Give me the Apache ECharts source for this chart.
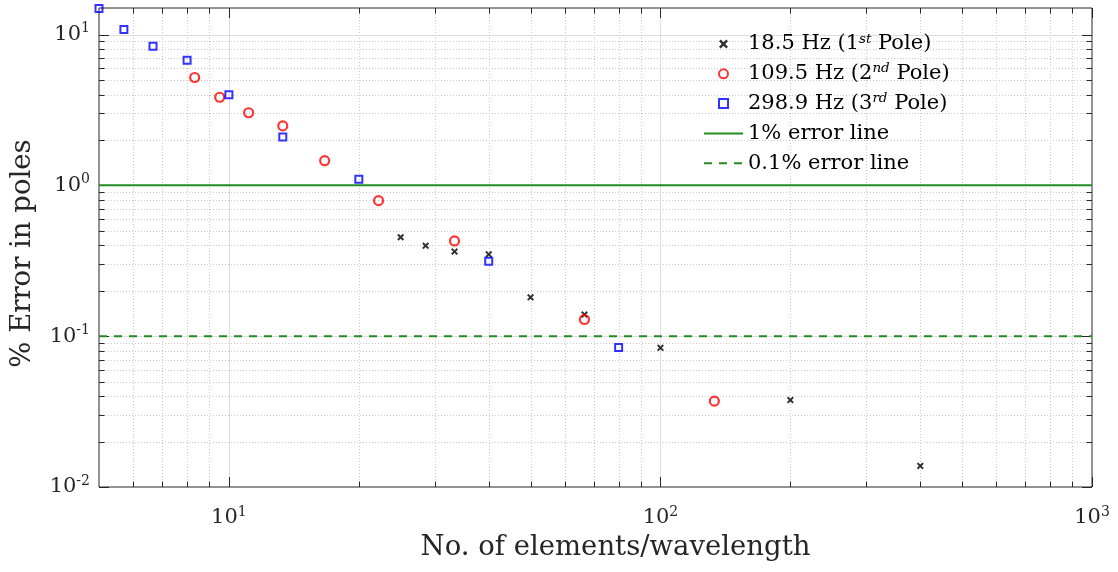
<!DOCTYPE html>
<html>
<head>
<meta charset="utf-8">
<script src="https://cdn.jsdelivr.net/npm/echarts@6/dist/echarts.min.js"></script>
<style>
html,body{margin:0;padding:0;background:#fff;}
#chart{width:1118px;height:572px;}
</style>
</head>
<body>
<div id="chart"></div>
<script>
// ---- data ----
const pole1X = [25, 28.57, 33.33, 40, 50, 66.67, 100, 200, 400];
const pole1Y = [0.453, 0.398, 0.364, 0.349, 0.181, 0.139, 0.0837, 0.0377, 0.0138];
const pole2X = [8.33, 9.52, 11.11, 13.33, 16.67, 22.22, 33.33, 66.67, 133.33];
const pole2Y = [5.19, 3.84, 3.03, 2.48, 1.457, 0.792, 0.428, 0.129, 0.0371];
const pole3X = [5, 5.71, 6.67, 8, 10, 13.33, 20, 40, 80];
const pole3Y = [14.9, 10.8, 8.36, 6.76, 3.99, 2.09, 1.10, 0.314, 0.0842];
const errorLineX = [5, 1000];
const onePercent = 1;
const pointOnePercent = 0.1;

const xRange = [5, 1000];
const yRange = [0.01, 15];
const xMajorTicks = [10, 100, 1000];
const xMinorTicks = [6, 7, 8, 9, 20, 30, 40, 50, 60, 70, 80, 90, 200, 300, 400, 500, 600, 700, 800, 900];
const yMajorTicks = [0.01, 0.1, 1, 10];
const yMinorTicks = [0.02, 0.03, 0.04, 0.05, 0.06, 0.07, 0.08, 0.09, 0.2, 0.3, 0.4, 0.5, 0.6, 0.7, 0.8, 0.9, 2, 3, 4, 5, 6, 7, 8, 9];

const seriesNames = ['pole1', 'pole2', 'pole3', 'line1', 'line01'];
const legendLabels = {
  pole1: '18.5 Hz (1{sup|st} Pole)',
  pole2: '109.5 Hz (2{sup|nd} Pole)',
  pole3: '298.9 Hz (3{sup|rd} Pole)',
  line1: '1% error line',
  line01: '0.1% error line'
};
const xTitle = 'No. of elements/wavelength';
const yTitle = '% Error in poles';

// ---- styling ----
const FONT = "'DejaVu Serif', 'Liberation Serif', serif";
const AXIS_COLOR = '#262626';
const GREEN = '#228B22';

function zip(xs, ys) { return xs.map((x, i) => [x, ys[i]]); }

function powLabel(v) {
  const e = Math.log10(v);
  const r = Math.round(e);
  if (Math.abs(e - r) > 1e-6) return '';
  return '{b|10}{sup|' + r + '}';
}

const labelRich = {
  b: { fontFamily: FONT, fontSize: 21, color: AXIS_COLOR, lineHeight: 26 },
  sup: { fontFamily: FONT, fontSize: 14, color: AXIS_COLOR, verticalAlign: 'top', lineHeight: 14 }
};

// draws the whole grid + box ticks through the axes' own scales
function gridRender(params, api) {
  const cs = params.coordSys;
  const children = [];
  const tickStyle = { stroke: AXIS_COLOR, lineWidth: 1 };
  const majorStyle = { stroke: '#dedede', lineWidth: 1 };
  const minorStyle = { stroke: '#cacaca', lineWidth: 1, lineDash: [1, 2] };
  const refX = 10, refY = 1;
  function addX(v, major) {
    const px = Math.round(api.coord([v, refY])[0]) + 0.5;
    const len = major ? 10 : 5.5;
    if (px > cs.x + 1 && px < cs.x + cs.width - 1) {
      children.push({ type: 'line', z2: 0, shape: { x1: px, y1: cs.y, x2: px, y2: cs.y + cs.height }, style: major ? majorStyle : minorStyle });
    }
    children.push({ type: 'line', z2: 5, shape: { x1: px, y1: cs.y + cs.height, x2: px, y2: cs.y + cs.height - len }, style: tickStyle });
    children.push({ type: 'line', z2: 5, shape: { x1: px, y1: cs.y, x2: px, y2: cs.y + len }, style: tickStyle });
  }
  function addY(v, major) {
    const py = Math.round(api.coord([refX, v])[1]) + 0.5;
    const len = major ? 10 : 5.5;
    if (py > cs.y + 1 && py < cs.y + cs.height - 1) {
      children.push({ type: 'line', z2: 0, shape: { x1: cs.x, y1: py, x2: cs.x + cs.width, y2: py }, style: major ? majorStyle : minorStyle });
    }
    children.push({ type: 'line', z2: 5, shape: { x1: cs.x, y1: py, x2: cs.x + len, y2: py }, style: tickStyle });
    children.push({ type: 'line', z2: 5, shape: { x1: cs.x + cs.width, y1: py, x2: cs.x + cs.width - len, y2: py }, style: tickStyle });
  }
  xMinorTicks.forEach(v => addX(v, false));
  xMajorTicks.forEach(v => addX(v, true));
  yMinorTicks.forEach(v => addY(v, false));
  yMajorTicks.forEach(v => addY(v, true));
  return { type: 'group', children: children };
}

const crossPath = 'path://M0,2 L2,0 L5,3 L8,0 L10,2 L7,5 L10,8 L8,10 L5,7 L2,10 L0,8 L3,5 Z';
const squarePath = 'path://M0,0 L10,0 L10,10 L0,10 Z';

const option = {
  animation: false,
  backgroundColor: '#ffffff',
  grid: {
    left: 99, right: 26, top: 8, bottom: 85,
    show: true, borderColor: AXIS_COLOR, borderWidth: 1, backgroundColor: '#ffffff'
  },
  xAxis: {
    type: 'log', logBase: 10, min: xRange[0], max: xRange[1],
    axisLine: { show: false },
    axisTick: { show: false },
    splitLine: { show: false },
    axisLabel: { formatter: powLabel, rich: labelRich, margin: 18, hideOverlap: false, showMinLabel: true, showMaxLabel: true },
    name: xTitle, nameLocation: 'middle', nameGap: 47,
    nameTextStyle: { fontFamily: FONT, fontSize: 27.5, color: AXIS_COLOR, padding: [0, 0, 0, 40] }
  },
  yAxis: {
    type: 'log', logBase: 10, min: yRange[0], max: yRange[1],
    axisLine: { show: false },
    axisTick: { show: false },
    splitLine: { show: false },
    axisLabel: { formatter: powLabel, rich: labelRich, margin: 9, showMinLabel: true, showMaxLabel: true },
    name: yTitle, nameLocation: 'middle', nameGap: 62,
    nameTextStyle: { fontFamily: FONT, fontSize: 27.5, color: AXIS_COLOR, padding: [0, 12, 0, 0] }
  },
  legend: {
    orient: 'vertical', left: 703, top: 32, padding: 0,
    itemWidth: 39, itemHeight: 9, itemGap: 5.8,
    selectedMode: false,
    data: [
      { name: 'pole1' },
      { name: 'pole2' },
      { name: 'pole3', icon: squarePath },
      { name: 'line1' },
      { name: 'line01' }
    ],
    formatter: function (name) { return legendLabels[name]; },
    textStyle: {
      fontFamily: FONT, fontSize: 21, color: '#000', lineHeight: 24,
      rich: { sup: { fontFamily: FONT, fontSize: 13.5, fontStyle: 'italic', color: '#000', verticalAlign: 'top', lineHeight: 13 } }
    }
  },
  series: [
    {
      type: 'custom', name: 'grid', silent: true, z: 1,
      renderItem: gridRender,
      data: [[xMajorTicks[0], yMajorTicks[2]]],
      encode: { x: 0, y: 1 }
    },
    {
      type: 'line', name: 'line1', z: 3, symbol: 'none', silent: true,
      data: errorLineX.map(x => [x, onePercent]),
      lineStyle: { color: GREEN, width: 2 }, itemStyle: { color: 'rgba(0,0,0,0)', borderWidth: 0 }
    },
    {
      type: 'line', name: 'line01', z: 3, symbol: 'none', silent: true,
      data: errorLineX.map(x => [x, pointOnePercent]),
      lineStyle: { color: GREEN, width: 2, type: [8, 7] }, itemStyle: { color: 'rgba(0,0,0,0)', borderWidth: 0 }
    },
    {
      type: 'scatter', name: 'pole1', z: 4, clip: false,
      symbol: crossPath, symbolSize: 7,
      data: zip(pole1X, pole1Y),
      itemStyle: { color: '#000000' }
    },
    {
      type: 'scatter', name: 'pole2', z: 4, clip: false,
      symbol: 'circle', symbolSize: 9,
      data: zip(pole2X, pole2Y),
      itemStyle: { color: 'rgba(255,255,255,0)', borderColor: '#ff0000', borderWidth: 2.2 }
    },
    {
      type: 'scatter', name: 'pole3', z: 4, clip: false,
      symbol: squarePath, symbolSize: 7,
      data: zip(pole3X, pole3Y),
      itemStyle: { color: 'rgba(255,255,255,0)', borderColor: '#0000ff', borderWidth: 2 }
    }
  ]
};

const chart = echarts.init(document.getElementById('chart'), null, { renderer: 'canvas' });
chart.setOption(option);
</script>
</body>
</html>
